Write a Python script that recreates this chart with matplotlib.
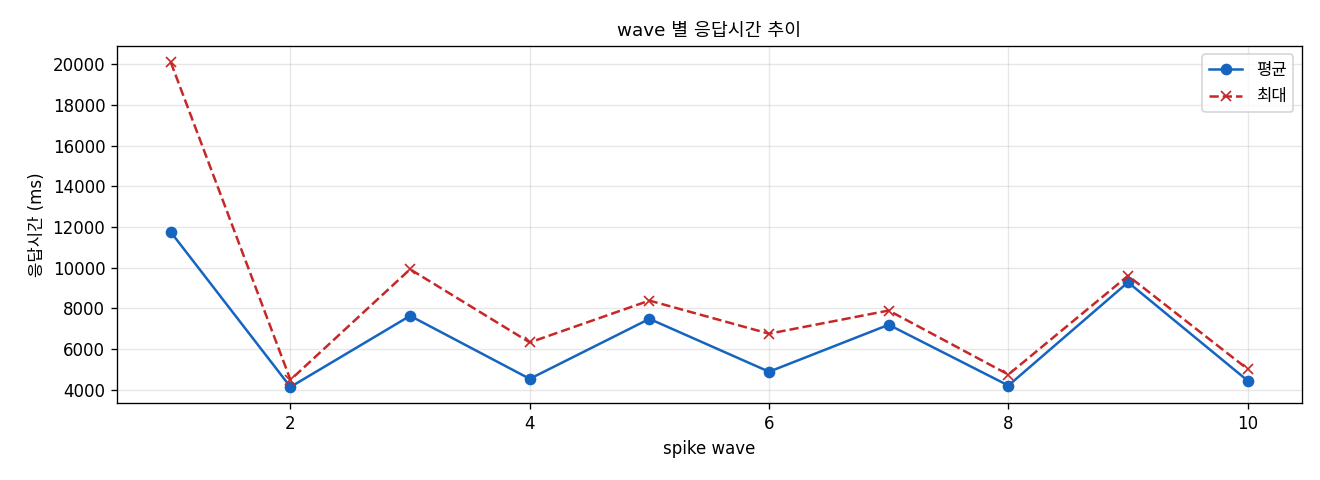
import matplotlib
matplotlib.use("Agg")
import matplotlib.pyplot as plt

plt.rcParams['font.family'] = ['DejaVu Sans', 'Noto Sans CJK KR']
plt.rcParams['axes.unicode_minus'] = False

waves = [1, 2, 3, 4, 5, 6, 7, 8, 9, 10]
avg_ms = [11750, 4130, 7630, 4530, 7480, 4880, 7190, 4200, 9280, 4440]
max_ms = [20100, 4480, 9920, 6320, 8380, 6750, 7890, 4740, 9600, 5010]

fig, ax = plt.subplots(figsize=(11, 4), dpi=120)
ax.plot(waves, avg_ms, marker='o', color='#1565C0', label='평균', linewidth=1.5, markersize=6)
ax.plot(waves, max_ms, marker='x', linestyle='--', color='#C62828', label='최대', linewidth=1.5, markersize=6)
ax.set_title('wave 별 응답시간 추이', fontsize=11)
ax.set_xlabel('spike wave', fontsize=10)
ax.set_ylabel('응답시간 (ms)', fontsize=10)
ax.grid(True, alpha=0.3)
ax.legend(loc='upper right')
fig.subplots_adjust(left=0.0886, right=0.986, top=0.904, bottom=0.160)
fig.savefig('out.png')
